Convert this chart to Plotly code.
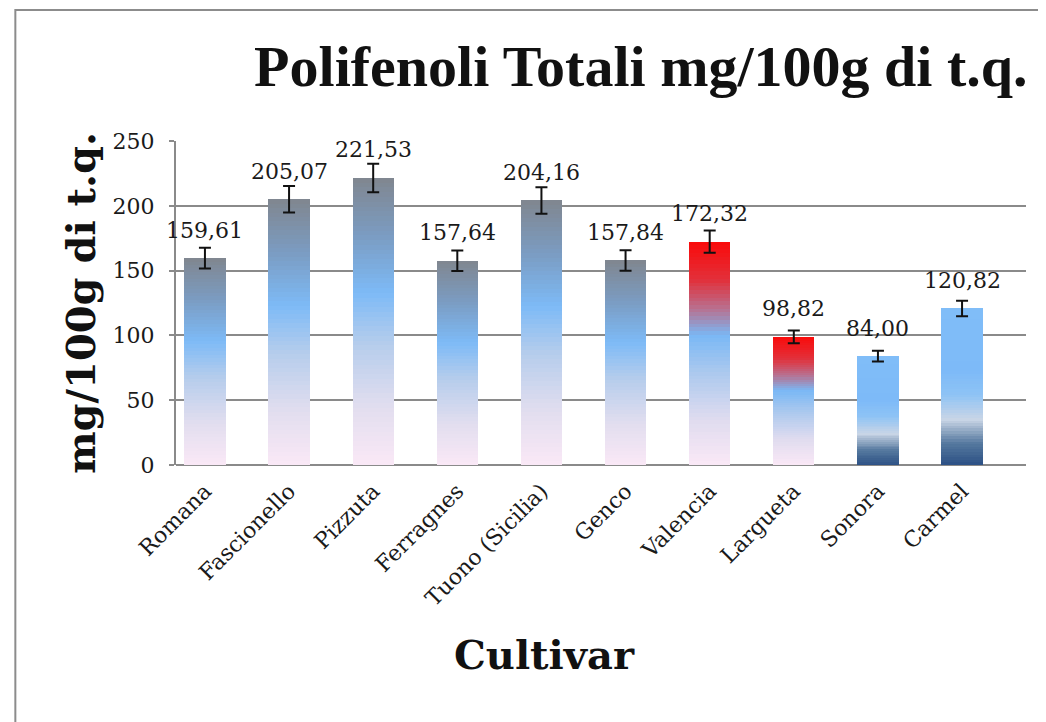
"""Polifenoli totali per cultivar: barre con gradiente verticale ed error bar."""

import plotly.graph_objects as go
from plotly.colors import hex_to_rgb

CULTIVARS = [
    "Romana", "Fascionello", "Pizzuta", "Ferragnes", "Tuono (Sicilia)",
    "Genco", "Valencia", "Largueta", "Sonora", "Carmel",
]
POLIFENOLI = [159.61, 205.07, 221.53, 157.64, 204.16, 157.84, 172.32, 98.82, 84.00, 120.82]
ERRORI = [8.0, 10.3, 11.0, 7.9, 10.2, 7.9, 8.6, 4.9, 4.2, 6.0]
Y_TICKS = [0, 50, 100, 150, 200, 250]

# gradienti (frazione dell'altezza della barra dal basso, colore)
GRADIENTS = {
    "grigio": [(0.0, "#fae8f6"), (0.2, "#e2deef"), (0.42, "#b6cdec"), (0.6, "#7dbaf6"),
               (0.8, "#7b9cc2"), (1.0, "#80868f")],
    "rosso": [(0.0, "#fae8f6"), (0.2, "#e0dcef"), (0.42, "#aac8ee"), (0.58, "#7ab8f5"),
              (0.7, "#b8708f"), (0.83, "#e2303a"), (1.0, "#fa0a0a")],
    "navy": [(0.0, "#2b5084"), (0.14, "#56799f"), (0.29, "#c9d5e6"), (0.45, "#8ec3f5"),
             (0.6, "#7dbaf8"), (1.0, "#80bdf8")],
}
SCHEMA = ["grigio"] * 6 + ["rosso", "rosso", "navy", "navy"]

N_SEG = 60
SERIF = "DejaVu Serif"
GRID = "#8a8a8a"


def _color_at(stops, f):
    for (f0, c0), (f1, c1) in zip(stops, stops[1:]):
        if f0 <= f <= f1:
            t = (f - f0) / (f1 - f0) if f1 > f0 else 0
            r0, g0, b0 = hex_to_rgb(c0)
            r1, g1, b1 = hex_to_rgb(c1)
            return "rgb({:.0f},{:.0f},{:.0f})".format(
                r0 + (r1 - r0) * t, g0 + (g1 - g0) * t, b0 + (b1 - b0) * t)
    return stops[-1][1]


fig = go.Figure()

# ogni barra e' una pila di segmenti sottili per simulare il gradiente
for k in range(N_SEG):
    f = (k + 0.5) / N_SEG
    fig.add_trace(go.Bar(
        x=CULTIVARS,
        y=[v / N_SEG for v in POLIFENOLI],
        marker=dict(color=[_color_at(GRADIENTS[s], f) for s in SCHEMA], line_width=0),
        width=0.49,
        hoverinfo="skip",
        showlegend=False,
    ))

fig.add_trace(go.Scatter(
    x=CULTIVARS,
    y=POLIFENOLI,
    mode="markers",
    marker=dict(size=1, opacity=0),
    error_y=dict(type="data", array=ERRORI, color="#111111", thickness=2, width=6),
    showlegend=False,
))

for cat, val in zip(CULTIVARS, POLIFENOLI):
    fig.add_annotation(
        x=cat, y=val, yshift=28, showarrow=False,
        text=f"{val:.2f}".replace(".", ","),
        font=dict(family=SERIF, size=22, color="#1a1a1a"),
    )

# titolo asse x (non centrato sull'area del grafico nell'originale)
fig.add_annotation(
    xref="paper", yref="paper", x=0.434, y=-0.586,
    xanchor="center", yanchor="middle", showarrow=False,
    text="<b>Cultivar</b>",
    font=dict(family=SERIF, size=40, color="#111111"),
)

# cornice esterna dell'immagine
fig.add_shape(
    type="rect", xref="paper", yref="paper",
    x0=-0.189, x1=1.06, y0=-0.9, y1=1.404,
    line=dict(color="#8c8c8c", width=2), layer="below",
)

fig.update_layout(
    barmode="stack",
    bargap=0.0,
    width=1046,
    height=722,
    margin=dict(l=168, r=28, t=133, b=265, autoexpand=False),
    paper_bgcolor="white",
    plot_bgcolor="white",
    showlegend=False,
    title=dict(
        text="<b>Polifenoli Totali mg/100g di t.q.</b>",
        font=dict(family="Liberation Serif", size=58, color="#111111"),
        x=0.605, xanchor="center", y=0.92, yanchor="middle",
    ),
)

fig.update_xaxes(
    range=[-0.344, 9.76],
    tickangle=-45,
    tickfont=dict(family=SERIF, size=22, color="#1a1a1a"),
    ticklabelstandoff=8,
    showline=False,
    ticks="",
)

fig.update_yaxes(
    range=[0, 250],
    tickvals=Y_TICKS,
    tickfont=dict(family=SERIF, size=22, color="#1a1a1a"),
    showgrid=True, gridcolor=GRID, gridwidth=2,
    zeroline=True, zerolinecolor=GRID, zerolinewidth=2,
    showline=True, linecolor=GRID, linewidth=2,
    ticks="outside", ticklen=5, tickcolor=GRID, tickwidth=2,
    ticklabelstandoff=10,
    title=dict(text="<b>mg/100g di t.q.</b>", font=dict(family=SERIF, size=40, color="#111111"),
               standoff=5),
)

fig.write_html("out.html")
